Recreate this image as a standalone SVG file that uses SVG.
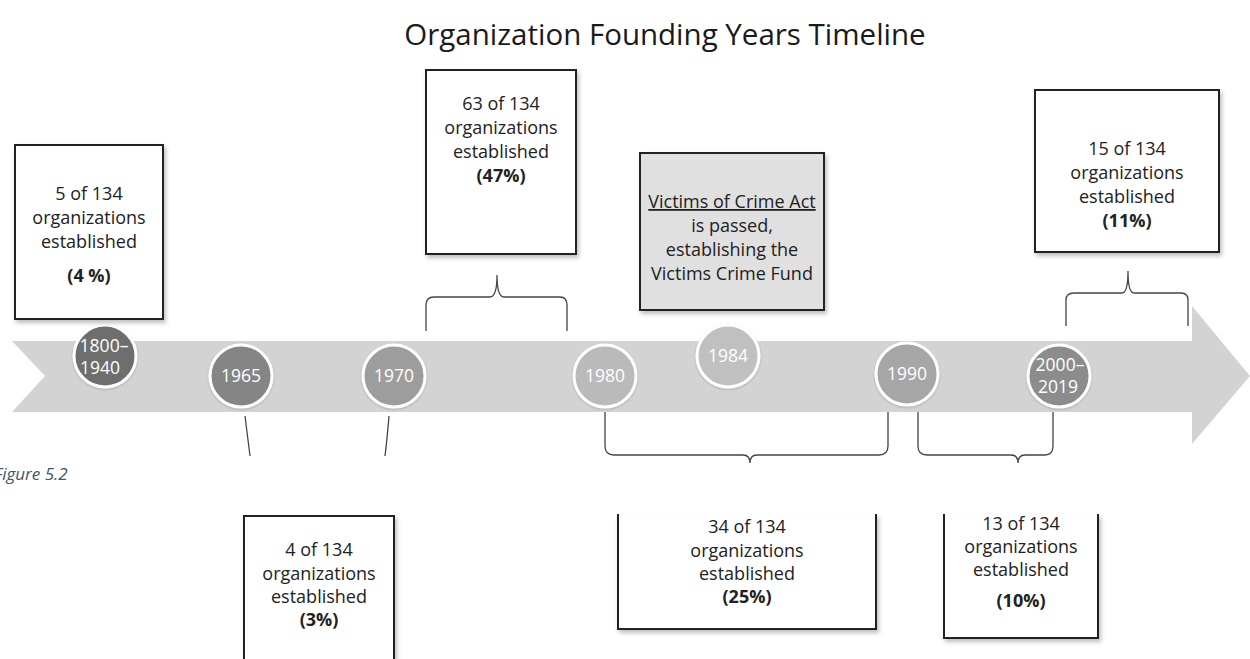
<svg xmlns="http://www.w3.org/2000/svg" width="1250" height="659" viewBox="0 0 1250 659">
<defs>
<style>
.t{font-family:"Open Sans","Liberation Sans",sans-serif;font-size:18px;fill:#222;text-anchor:middle}
.b{font-weight:bold}
.box{fill:#fff;stroke:#222;stroke-width:2;filter:url(#sh)}
.yr{font-family:"Open Sans","Liberation Sans",sans-serif;font-size:17.5px;fill:#fff;text-anchor:middle}
.cir{stroke:#fff;stroke-width:3;filter:url(#sh2)}
.br{fill:none;stroke:#444;stroke-width:1.3}
</style>
<filter id="sh" x="-10%" y="-10%" width="130%" height="130%">
<feDropShadow dx="2" dy="3" stdDeviation="2" flood-color="#000" flood-opacity="0.25"/>
</filter>
<filter id="sh2" x="-20%" y="-20%" width="140%" height="140%">
<feDropShadow dx="0" dy="1" stdDeviation="1" flood-color="#000" flood-opacity="0.2"/>
</filter>
</defs>
<rect width="1250" height="659" fill="#fff"/>
<text x="665" y="45" font-family="Open Sans, Liberation Sans, sans-serif" font-size="29.5" fill="#1a1a1a" text-anchor="middle">Organization Founding Years Timeline</text>
<text x="-6" y="480" font-family="Open Sans, Liberation Sans, sans-serif" font-size="17" font-style="italic" fill="#44546a">Figure 5.2</text>

<g id="band">
<polygon points="12,341 1192,341 1192,306 1250,376 1192,444 1192,412 12,412 45,376" fill="#d3d3d3"/>
</g>

<g id="connectors">
<path class="br" d="M245,416 Q248,440 250,456"/>
<path class="br" d="M389,416 Q387,440 385,456"/>
<path class="br" d="M426,331 L426,305 Q426,297 434,297 L490,297 Q497,297 497,275 Q497,297 504,297 L560,297 Q567,297 567,305 L567,331"/>
<path class="br" d="M1066,326 L1066,300 Q1066,293 1074,293 L1122,293 Q1128,293 1128,271 Q1128,293 1134,293 L1181,293 Q1188,293 1188,300 L1188,326"/>
<path class="br" d="M605,412 L605,446 Q605,455 614,455 L743,455 Q750,455 750,463 Q750,455 757,455 L879,455 Q888,455 888,446 L888,412"/>
<path class="br" d="M918,412 L918,446 Q918,455 927,455 L1011,455 Q1018,455 1018,463 Q1018,455 1025,455 L1045,455 Q1053,455 1053,446 L1053,412"/>
</g>

<g id="c1800"><circle class="cir" cx="105" cy="356" r="31" fill="#6e6e6e"/><text class="yr" x="104" y="352">1800–</text><text class="yr" x="100" y="374">1940</text></g>
<g id="c1965"><circle class="cir" cx="241" cy="376" r="31" fill="#858585"/><text class="yr" x="241" y="382">1965</text></g>
<g id="c1970"><circle class="cir" cx="394" cy="376" r="31" fill="#9d9d9d"/><text class="yr" x="394" y="382">1970</text></g>
<g id="c1980"><circle class="cir" cx="605" cy="376" r="31" fill="#bababa"/><text class="yr" x="605" y="382">1980</text></g>
<g id="c1984"><circle class="cir" cx="728" cy="356" r="31" fill="#c0c0c0"/><text class="yr" x="728" y="362">1984</text></g>
<g id="c1990"><circle class="cir" cx="907" cy="374" r="31" fill="#a6a6a6"/><text class="yr" x="907" y="380">1990</text></g>
<g id="c2000"><circle class="cir" cx="1059" cy="376" r="31" fill="#8c8c8c"/><text class="yr" x="1060" y="371">2000–</text><text class="yr" x="1058" y="393">2019</text></g>

<g id="box4pct">
<rect class="box" x="15" y="145" width="148" height="174"/>
<text class="t" x="89" y="200">5 of 134</text>
<text class="t" x="89" y="224">organizations</text>
<text class="t" x="89" y="248">established</text>
<text class="t b" x="89" y="282">(4 %)</text>
</g>
<g id="box47pct">
<rect class="box" x="426" y="70" width="150" height="184"/>
<text class="t" x="501" y="110">63 of 134</text>
<text class="t" x="501" y="134">organizations</text>
<text class="t" x="501" y="158">established</text>
<text class="t b" x="501" y="182">(47%)</text>
</g>
<g id="boxVOCA">
<rect class="box" x="640" y="153" width="184" height="157" style="fill:#e0e0e0"/>
<text class="t" x="732" y="208" text-decoration="underline">Victims of Crime Act</text>
<text class="t" x="732" y="232">is passed,</text>
<text class="t" x="732" y="256">establishing the</text>
<text class="t" x="732" y="280">Victims Crime Fund</text>
</g>
<g id="box11pct">
<rect class="box" x="1035" y="90" width="184" height="162"/>
<text class="t" x="1127" y="155">15 of 134</text>
<text class="t" x="1127" y="179">organizations</text>
<text class="t" x="1127" y="203">established</text>
<text class="t b" x="1127" y="227">(11%)</text>
</g>
<g id="box3pct">
<rect class="box" x="244" y="516" width="150" height="160"/>
<text class="t" x="319" y="556">4 of 134</text>
<text class="t" x="319" y="580">organizations</text>
<text class="t" x="319" y="603">established</text>
<text class="t b" x="319" y="626">(3%)</text>
</g>
<g id="box25pct">
<path d="M618,514 L618,629 L876,629 L876,514" fill="#fff" stroke="#222" stroke-width="2" filter="url(#sh)"/>
<text class="t" x="747" y="533">34 of 134</text>
<text class="t" x="747" y="557">organizations</text>
<text class="t" x="747" y="580">established</text>
<text class="t b" x="747" y="603">(25%)</text>
</g>
<g id="box10pct">
<path d="M944,514 L944,638 L1098,638 L1098,514" fill="#fff" stroke="#222" stroke-width="2" filter="url(#sh)"/>
<text class="t" x="1021" y="530">13 of 134</text>
<text class="t" x="1021" y="553">organizations</text>
<text class="t" x="1021" y="576">established</text>
<text class="t b" x="1021" y="607">(10%)</text>
</g>
</svg>
